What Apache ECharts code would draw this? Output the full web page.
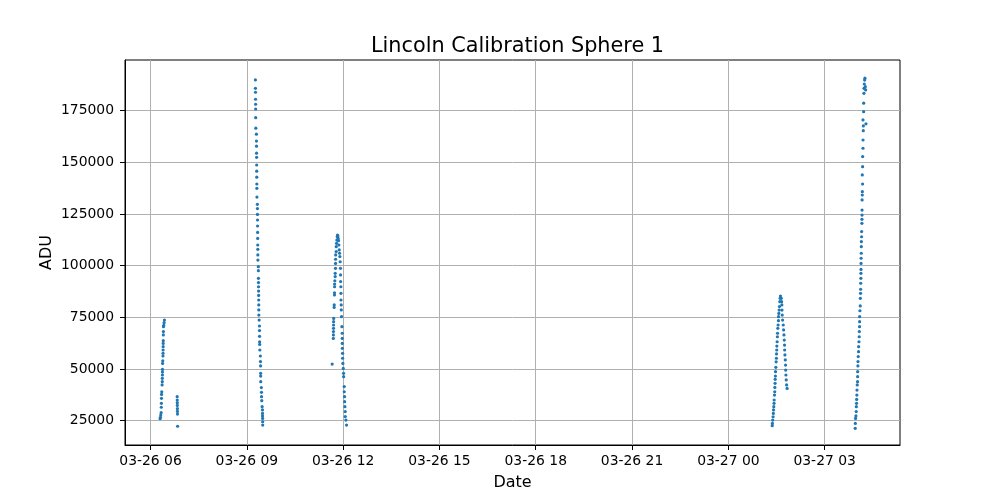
<!DOCTYPE html>
<html>
<head>
<meta charset="utf-8">
<script src="https://cdn.jsdelivr.net/npm/echarts@6/dist/echarts.min.js"></script>
<style>html,body{margin:0;padding:0;background:#fff}#c{width:1000px;height:500px}</style>
</head>
<body>
<div id="c"></div>
<script>
// Time is in minutes after 03-26 00:00.
const chartTitle = 'Lincoln Calibration Sphere 1';
const xName = 'Date';
const yName = 'ADU';
const xTickMinutes = [360, 540, 720, 900, 1080, 1260, 1440, 1620];
const xTickLabels = ['03-26 06', '03-26 09', '03-26 12', '03-26 15', '03-26 18', '03-26 21', '03-27 00', '03-27 03'];
const yTickValues = [25000, 50000, 75000, 100000, 125000, 150000, 175000];
const xRange = [312.3, 1760.8];
const yRange = [13240, 199500];

const pass1Min = [377.9, 378.5, 379.1, 379.8, 380.2, 380.3, 380.5, 380.6, 381.0, 381.6, 382.0, 382.1, 382.2, 382.3, 382.4, 382.5, 382.9, 383.3, 383.4, 383.5, 383.6, 383.7, 383.8, 384.0, 384.1, 384.2, 384.7, 385.4, 386.0,
  409.8, 409.9, 410.0, 410.1, 410.2, 410.3, 410.4, 410.6];
const pass1Adu = [26000, 26600, 27700, 28900, 31500, 33400, 35800, 37700, 39000, 42300, 43900, 45500, 47100, 48500, 49800, 52700, 54000, 56300, 57600, 59200, 60800, 62400, 63700, 66500, 68100, 70500, 71100, 72400, 73700,
  36600, 35000, 33700, 32400, 30800, 29500, 28200, 22300];

const pass2Min = [556.0, 556.1, 556.2, 556.3, 556.4, 556.5, 556.6, 556.8, 557.9, 558.0, 558.1, 558.2, 558.3, 558.4, 558.5, 558.6, 558.7, 558.8, 558.9,
  559.7, 559.8, 559.9, 560.0, 560.1, 560.2, 560.3, 560.4, 560.5, 560.6, 560.7, 561.5, 561.6, 561.7, 561.8, 561.9, 562.0, 562.1, 562.2, 562.3, 562.4, 562.5,
  563.0, 563.6, 563.7, 563.8, 563.9, 564.0, 564.3, 565.3, 565.5, 565.7, 565.8, 565.9, 566.0, 567.2, 567.4, 567.5, 567.9, 568.6, 569.2, 569.3, 569.4, 569.5, 569.6, 569.7];
const pass2Adu = [189850, 185800, 183900, 180500, 178100, 175800, 171600, 166500, 163600, 160300, 157800, 154400, 152400, 148700, 145700, 142800, 139500, 137400, 133200,
  129700, 127600, 124800, 122100, 119200, 116100, 113200, 110000, 107900, 105200, 102700, 99500, 97600, 93900, 91800, 89800, 87700, 85600, 83400, 81000, 78600, 76100,
  73700, 70800, 68600, 65800, 63200, 61900, 59200, 56300, 53600, 51500, 47900, 46600, 43900, 41000, 38700, 36600, 34700, 31800, 30200, 28500, 27300, 26100, 24500, 22900];

const pass3Min = [699.5,
  701.7, 701.8, 701.9, 702.0, 702.1, 702.2, 702.3, 703.2, 703.3, 703.8, 703.9, 704.0, 704.1, 704.5, 705.1, 705.2, 705.7, 705.8, 705.9, 706.0, 707.0, 707.1, 707.7, 708.3, 708.9, 709.5, 710.2,
  710.8, 711.4, 712.0, 712.7, 713.3, 713.9, 714.5, 715.1, 715.2, 715.3, 715.8, 715.9, 716.0, 716.4, 716.5, 717.0, 717.7, 718.2, 718.3, 718.4, 718.5, 718.9, 719.0, 719.5,
  720.2, 720.8, 720.9, 722.0, 722.1, 722.7, 722.8, 723.3, 723.9, 724.0, 725.2, 726.4];
const pass3Adu = [52400,
  64800, 66500, 68100, 69700, 71300, 72900, 74500, 79800, 81000, 85800, 86900, 89800, 91100, 92700, 94700, 96300, 98700, 101100, 103100, 105200, 106800, 109200, 110800, 112400, 114000, 114800, 114400,
  113200, 112100, 110000, 107600, 106000, 104400, 101900, 98700, 95500, 92300, 89800, 86600, 83400, 81000, 78600, 75300, 70500, 67300, 64800, 62400, 60000, 57600, 55200, 52700,
  50300, 47900, 46300, 41500, 39000, 36600, 34200, 31800, 29400, 27000, 25300, 22900];

const pass4Min = [1522.0, 1522.3, 1522.9, 1523.6, 1524.1, 1524.4, 1524.9, 1525.4, 1525.6, 1526.2, 1526.7, 1526.9, 1527.3, 1527.5, 1527.9, 1528.1, 1528.7, 1529.3, 1529.8, 1530.0,
  1530.4, 1530.6, 1531.2, 1531.7, 1531.9, 1532.4, 1533.0, 1533.6, 1533.8, 1534.3, 1534.9, 1535.5, 1536.2, 1536.8, 1537.4,
  1538.9, 1539.5, 1540.0, 1540.2, 1540.7, 1541.4, 1542.6, 1543.2, 1543.9, 1544.5, 1545.0, 1545.2, 1545.7, 1546.4, 1546.9, 1547.1, 1547.6, 1548.2, 1548.9, 1549.8];
const pass4Adu = [22600, 23700, 25300, 26900, 28500, 30200, 31800, 33400, 35000, 37400, 39000, 41100, 43100, 45000, 46600, 48700, 50800, 53500, 55200, 57300,
  59200, 61100, 63200, 65600, 67300, 69700, 71300, 73400, 75300, 76900, 78500, 80200, 82600, 84200, 85300,
  84200, 82600, 81000, 78500, 76100, 73700, 71300, 68900, 66500, 64000, 61600, 59200, 56800, 54400, 51900, 49500, 47100, 44700, 42300, 40600];

const pass5Min = [1677.1, 1677.3, 1677.8, 1678.4, 1679.0, 1679.2, 1679.6, 1679.8, 1680.2, 1680.4, 1680.9, 1681.5, 1681.6, 1681.7, 1682.1, 1682.3, 1682.8, 1683.3, 1683.5, 1684.1,
  1684.6, 1684.8, 1685.2, 1685.3, 1685.4, 1685.9, 1686.5, 1686.7, 1687.1, 1687.2, 1687.3, 1687.7, 1687.8, 1687.9, 1688.0, 1688.1, 1688.4, 1688.5, 1688.6, 1689.0,
  1689.1, 1689.6, 1689.7, 1689.8, 1689.9, 1690.0, 1690.3, 1690.4, 1690.9, 1690.3, 1690.9, 1691.0, 1691.6, 1691.7, 1692.2, 1692.3, 1691.6, 1692.8, 1692.9, 1693.4,
  1693.5, 1694.1, 1694.7, 1695.3, 1695.9, 1696.6, 1697.2];
const pass5Adu = [21300, 23700, 26100, 27300, 29400, 31800, 33400, 35300, 37400, 39800, 42300, 43900, 46300, 48700, 51500, 53600, 56000, 58400, 60800, 63200,
  65600, 68100, 70500, 72900, 75300, 78200, 80500, 84200, 86600, 88600, 91500, 93900, 96300, 98200, 101100, 103600, 106000, 109200, 111600, 114000,
  116500, 120500, 122400, 124500, 126900, 131800, 134200, 135800, 139500, 143900, 147900, 152800, 156800, 160800, 165300, 167600, 170500, 174500, 178600, 183400,
  185800, 187900, 189800, 190700, 186600, 185000, 168600];

const passes = [[pass1Min, pass1Adu], [pass2Min, pass2Adu], [pass3Min, pass3Adu], [pass4Min, pass4Adu], [pass5Min, pass5Adu]];
const points = [];
passes.forEach(([m, a]) => m.forEach((t, i) => points.push([t, a[i]])));

const font = 'DejaVu Sans';
const chart = echarts.init(document.getElementById('c'), null, {renderer: 'canvas'});
chart.setOption({
  animation: false,
  backgroundColor: '#fff',
  title: {
    text: chartTitle, left: 512.5, top: 31, textAlign: 'center',
    textStyle: {fontFamily: font, fontSize: 20.8, fontWeight: 'normal', color: '#000'}
  },
  grid: {left: 125, right: 100, top: 60, bottom: 55, show: true, borderColor: '#000', borderWidth: 1, backgroundColor: 'transparent'},
  xAxis: {
    type: 'value', min: xRange[0], max: xRange[1],
    name: xName, nameLocation: 'middle', nameGap: 30, nameMoveOverlap: false,
    nameTextStyle: {fontFamily: font, fontSize: 16, color: '#000'},
    axisLine: {show: true, lineStyle: {color: '#000', width: 1}},
    axisTick: {show: true, length: 5, customValues: xTickMinutes, lineStyle: {color: '#000'}},
    axisLabel: {customValues: xTickMinutes, margin: 9, fontFamily: font, fontSize: 13.9, color: '#000',
      formatter: v => { const i = xTickMinutes.indexOf(v); return i >= 0 ? xTickLabels[i] : ''; }},
    splitLine: {show: true, lineStyle: {color: '#b0b0b0', width: 1}}
  },
  yAxis: {
    type: 'value', min: yRange[0], max: yRange[1],
    name: yName, nameLocation: 'middle', nameGap: 70, nameRotate: 90, nameMoveOverlap: false,
    nameTextStyle: {fontFamily: font, fontSize: 16, color: '#000'},
    axisLine: {show: true, lineStyle: {color: '#000', width: 1}},
    axisTick: {show: true, length: 5, customValues: yTickValues, lineStyle: {color: '#000'}},
    axisLabel: {customValues: yTickValues, margin: 11, fontFamily: font, fontSize: 13.9, color: '#000', formatter: v => String(v)},
    splitLine: {show: true, lineStyle: {color: '#b0b0b0', width: 1}}
  },
  series: [{
    type: 'scatter', data: points, symbol: 'circle', symbolSize: 3.2,
    itemStyle: {color: '#1f77b4', opacity: 1}
  }]
});
</script>
</body>
</html>
